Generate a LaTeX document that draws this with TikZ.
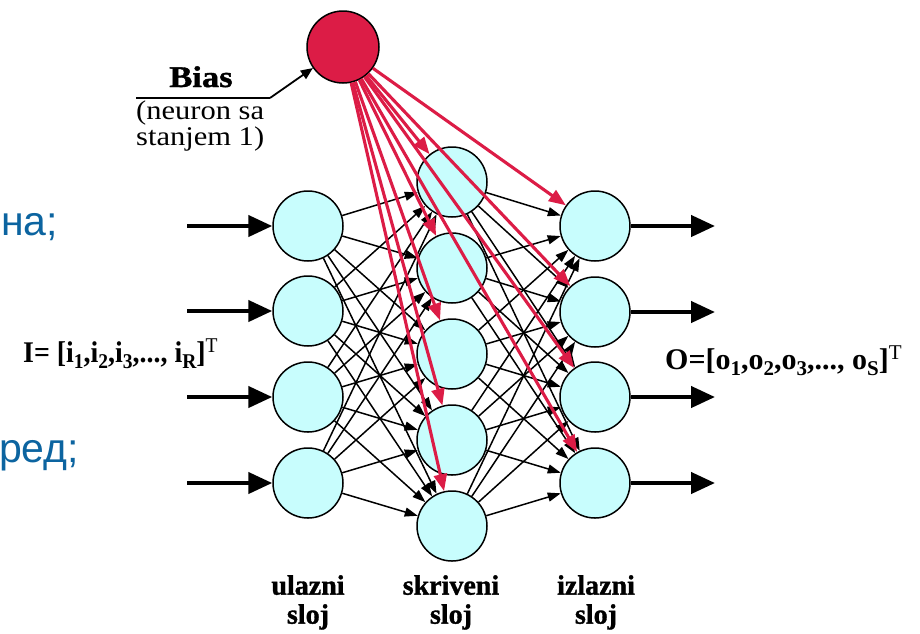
\documentclass[tikz,border=0pt]{standalone}
\usepackage{fontspec}
\setmainfont{Liberation Serif}
\newfontfamily\blueff{Liberation Sans}
\newfontfamily\heavyserif{Liberation Serif}[BoldFeatures={FakeBold=1.2}]
\usetikzlibrary{arrows.meta}
\definecolor{cellfill}{RGB}{200,253,253}
\definecolor{biasred}{RGB}{220,28,70}
\definecolor{slideblue}{RGB}{12,100,160}
\newcommand\mysub[1]{\raisebox{-0.22em}{\fontsize{21}{21}\selectfont #1}}
\begin{document}
\begin{tikzpicture}[x=1pt,y=-1pt,
  neuron/.style={circle,draw=black,line width=1.5pt,fill=cellfill,minimum size=70pt,inner sep=0pt},
  biasnode/.style={circle,draw=black,line width=1.5pt,fill=biasred,minimum size=72pt,inner sep=0pt},
  link/.style={line width=1.5pt,-{Triangle[length=13pt,width=9pt]}},
  redlink/.style={draw=biasred,line width=3.1pt,-{Triangle[length=17pt,width=13pt]}},
  ioarrow/.style={line width=4.3pt,-{Triangle[length=24pt,width=21pt]}},
  biasarrow/.style={line width=1.8pt,-{Triangle[length=12pt,width=10pt]}},
  layerlbl/.style={align=center,inner sep=0pt,anchor=north,font=\heavyserif\fontsize{28}{29}\selectfont\bfseries},
  slidetxt/.style={anchor=base west,inner sep=0pt,text=slideblue,font=\blueff\fontsize{41}{41}\selectfont},
  vectxt/.style={anchor=base west,inner sep=0pt,font=\fontsize{30}{30}\selectfont\bfseries}]
\useasboundingbox (0,0) rectangle (920,633);

% slide text fragments
\node[slidetxt] (t1) at (1,235) {на;};
\node[slidetxt] (t2) at (-1,462) {ред;};

% neurons
\node[biasnode] (bias) at (343,47) {};
\foreach \i/\y in {1/226,2/311,3/397,4/483} {
  \node[neuron] (in\i) at (308,\y) {};
  \coordinate (src\i) at (187,\y);
}
\foreach \h/\y in {1/182,2/268,3/354,4/440,5/526} {
  \node[neuron] (hid\h) at (452,\y) {};
}
\foreach \o/\y in {1/226,2/312,3/397,4/483} {
  \node[neuron] (out\o) at (595,\y) {};
  \coordinate (dst\o) at (715,\y);
}

% connections
\foreach \i in {1,...,4} {
  \draw[ioarrow] (src\i) -- (in\i);
  \foreach \h in {1,...,5} { \draw[link] (in\i) -- (hid\h); }
}
\foreach \h in {1,...,5} {
  \foreach \o in {1,...,4} { \draw[link] (hid\h) -- (out\o); }
}
\foreach \o in {1,...,4} { \draw[ioarrow] (out\o) -- (dst\o); }

% bias connections
\foreach \h in {1,...,5} { \draw[redlink] (bias) -- (hid\h); }
\foreach \o in {1,...,4} { \draw[redlink] (bias) -- (out\o); }

% bias label
\node[anchor=base,inner sep=0pt,font=\heavyserif\fontsize{30}{30}\selectfont\bfseries] (biaslbl) at (201,87) {\scalebox{1.15}[1]{Bias}};
\coordinate (lineL) at (136,98);
\coordinate (lineR) at (270,98);
\draw[line width=1.5pt] (lineL) -- (lineR);
\draw[biasarrow] (lineR) -- (bias);
\node[anchor=north west,inner sep=0pt,align=left,font=\fontsize{27}{23}\selectfont] (biasnote) at (136,101) {\scalebox{1.13}[1]{(neuron sa}\\\scalebox{1.13}[1]{stanjem 1)}};

% vectors
\node[vectxt] (ivec) at (23,362) {\scalebox{0.93}[1]{I= [i\mysub{1},i\mysub{2},i\mysub{3},..., i\mysub{R}]\textsuperscript{\mdseries T}}};
\node[vectxt] (ovec) at (665,369) {O=[o\mysub{1},o\mysub{2},o\mysub{3},..., o\mysub{S}]\textsuperscript{\mdseries T}};

% layer labels
\node[layerlbl] (l1) at (308,575) {ulazni\\sloj};
\node[layerlbl] (l2) at (451,575) {skriveni\\sloj};
\node[layerlbl] (l3) at (596,575) {izlazni\\sloj};
\end{tikzpicture}
\end{document}
